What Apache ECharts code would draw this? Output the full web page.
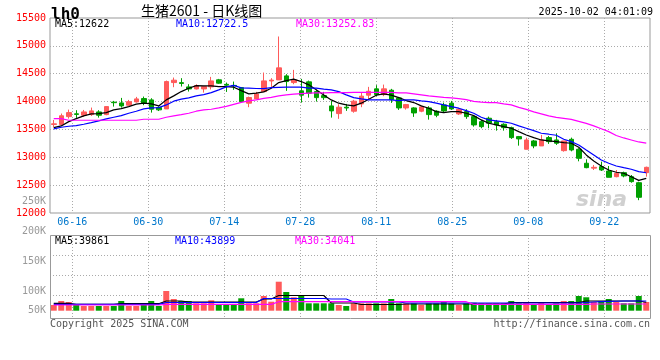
<!DOCTYPE html>
<html><head><meta charset="utf-8">
<script src="https://cdn.jsdelivr.net/npm/echarts@6/dist/echarts.min.js"></script>
<style>html,body{margin:0;padding:0;background:#fff}#c{width:660px;height:360px}</style>
</head><body><div id="c"></div>
<script>
const dates = ['06-11','06-12','06-13','06-16','06-17','06-18','06-19','06-20','06-23','06-24','06-25','06-26','06-27','06-30',
'07-01','07-02','07-03','07-04','07-07','07-08','07-09','07-10','07-11','07-14','07-15','07-16','07-17','07-18','07-21','07-22','07-23','07-24','07-25','07-28','07-29','07-30','07-31',
'08-01','08-04','08-05','08-06','08-07','08-08','08-11','08-12','08-13','08-14','08-15','08-18','08-19','08-20','08-21','08-22','08-25','08-26','08-27','08-28','08-29',
'09-01','09-02','09-03','09-04','09-05','09-08','09-09','09-10','09-11','09-12','09-15','09-16','09-17','09-18','09-19','09-22','09-23','09-24','09-25','09-26','09-29','09-30'];
const opens = [13590,13590,13730,13780,13755,13766,13814,13766,13990,13976,
13935,13994,14054,14030,13893,13868,14341,14340,14263,14227,
14227,14264,14390,14310,14290,14251,13971,14048,14179,14370,
14389,14461,14341,14192,14354,14179,14107,13922,13784,13900,
13827,13958,14115,14228,14125,14204,14066,13886,13886,13827,
13886,13827,13940,13971,13778,13820,13730,13640,13701,13640,
13593,13532,13371,13144,13293,13204,13353,13311,13119,13323,
13144,12893,12805,12832,12754,12652,12724,12652,12544,12724];
const closes = [13600,13745,13802,13770,13814,13833,13755,13910,13980,13922,
13999,14048,13971,13863,13851,14359,14384,14325,14227,14287,
14269,14371,14330,14295,14280,14000,14072,14138,14371,14385,
14605,14359,14389,14115,14150,14071,14071,13833,13899,13885,
14007,14097,14185,14125,14228,14035,13886,13946,13796,13904,
13766,13755,13832,13868,13862,13730,13581,13550,13612,13581,
13532,13353,13330,13311,13204,13311,13281,13252,13293,13131,
12982,12814,12820,12772,12641,12712,12665,12563,12282,12820];
const lows = [13540,13560,13694,13707,13725,13742,13712,13755,13910,13892,
13920,13982,13935,13802,13830,13868,14258,14270,14180,14218,
14161,14218,14318,14173,14210,13982,13899,14048,14179,14258,
14389,14192,14312,13982,14071,14000,14030,13712,13690,13833,
13800,13899,14036,14097,14097,13976,13850,13856,13725,13809,
13676,13719,13802,13850,13760,13690,13550,13521,13521,13478,
13478,13330,13209,13144,13162,13204,13240,13222,13101,13107,
12928,12803,12772,12754,12641,12641,12641,12544,12230,12652];
const highs = [13670,13785,13856,13845,13850,13892,13845,13915,14012,14066,
14030,14084,14090,14060,13915,14377,14431,14420,14312,14310,
14275,14443,14407,14341,14359,14258,14090,14174,14521,14420,
15168,14492,14569,14407,14377,14210,14174,14012,13953,13958,
14030,14156,14264,14294,14305,14228,14084,13958,13899,13927,
13917,13845,13982,14012,13880,13863,13760,13671,13730,13671,
13610,13550,13383,13353,13311,13401,13383,13431,13293,13353,
13162,12964,12862,12922,12844,12772,12742,12682,12562,12832];
const ma5 = [13532,13563,13640,13694,13743,13778,13784,13802,13850,13874,
13910,13953,13971,13958,13922,14030,14102,14179,14240,14287,
14282,14282,14269,14269,14258,14197,14138,14150,14174,14240,
14341,14377,14402,14359,14300,14210,14120,14030,13971,13940,
13922,13971,14043,14115,14138,14115,14072,14018,13982,13922,
13881,13820,13802,13820,13820,13791,13748,13671,13611,13581,
13550,13521,13460,13401,13353,13311,13293,13281,13263,13252,
13180,13042,12934,12844,12772,12731,12713,12652,12585,12622];
const ma10 = [13509,13539,13557,13568,13593,13622,13653,13689,13719,13748,
13791,13827,13868,13886,13892,13940,14007,14043,14066,14102,
14125,14161,14210,14264,14290,14245,14240,14235,14233,14251,
14255,14258,14258,14258,14240,14240,14222,14210,14179,14120,
14072,14048,14030,14030,14030,14030,14018,14030,14030,14012,
14000,13971,13940,13910,13881,13838,13791,13719,13671,13653,
13635,13611,13563,13521,13478,13431,13414,13396,13324,13281,
13221,13131,13042,12952,12892,12844,12814,12785,12742,12722];
const ma30 = [13694,13694,13665,13665,13665,13665,13665,13665,13665,13665,
13665,13665,13683,13683,13683,13719,13743,13766,13791,13827,
13850,13862,13886,13913,13949,13985,14012,14030,14057,14075,
14102,14120,14133,14143,14150,14156,14156,14161,14161,14161,
14165,14165,14165,14165,14165,14165,14156,14156,14138,14120,
14102,14089,14075,14066,14053,14035,14003,13989,13982,13980,
13958,13940,13895,13859,13814,13778,13742,13716,13698,13680,
13644,13608,13563,13513,13460,13392,13347,13311,13275,13253];
const volumes = [30800,43900,40600,30800,27500,27500,27500,27500,27500,43900,
27500,27500,33000,43900,27500,76800,50500,43900,43900,36300,
36300,46200,30800,30800,30800,52800,36300,36300,60300,41600,
107300,73500,56100,60300,36300,36300,36300,36300,30800,27500,
36300,36300,36300,36300,36300,50500,36300,36300,36300,30800,
36300,36300,43900,36300,30800,36300,38300,36300,36300,36300,
36300,43900,36300,40600,30800,40600,30800,36300,43900,43900,
60300,56100,40600,43900,50500,40600,36300,36300,60300,40600];
const volMa5 = [36300,36300,36300,33000,33000,33000,33000,33000,33000,35000,
35000,35000,35000,35000,35000,43900,43900,43900,40600,40600,
40600,40600,40600,40600,40600,40600,40600,40600,50500,50500,
62000,62000,62000,62000,62000,62000,62000,37300,37300,37300,
37300,32400,32400,32400,32400,32400,32400,34000,34000,34000,
34000,34000,34000,34000,34000,34000,34000,34000,34000,34000,
34000,39000,39000,39000,39000,39000,39000,39000,39000,39000,
39000,43900,43900,43900,43900,43900,43900,43900,43900,39861];
const volMa10 = [33000,33000,33000,33000,33000,33000,33000,33000,33000,33000,
33000,33000,33000,33000,33000,39000,39000,39000,39000,39000,
39000,39000,39000,39000,39000,39000,39000,39000,52100,52100,
52100,52100,52100,52100,52100,52100,52100,50500,50500,50500,
40600,40600,40600,40600,40600,40600,40600,37300,37300,37300,
37300,37300,37300,37300,37300,37300,37300,37300,37300,37300,
37300,37300,37300,37300,37300,37300,37300,37300,37300,37300,
37300,39000,40600,41600,42500,43000,43900,43900,43900,43899];
const volMa30 = [30800,30800,30800,30800,30800,30800,30800,30800,30800,30800,
30800,30800,30800,30800,30800,33000,33000,33000,33000,33000,
33000,33000,33000,33000,33000,33000,33000,33000,33000,33000,
41600,41600,41600,41600,41600,41600,41600,41600,41600,41600,
41600,41600,41600,41600,41600,41600,41600,41600,41600,41600,
41600,41600,41600,41600,41600,41600,33000,33000,33000,33000,
33000,33000,33000,33000,33000,33000,33000,33000,33000,33000,
33000,33000,34041,34041,34041,34041,34041,34041,34041,34041];
const tickLabels = ['06-16','06-30','07-14','07-28','08-11','08-25','09-08','09-22'];
const priceMaLabels = ['MA5:12622','MA10:12722.5','MA30:13252.83'];
const volMaLabels = ['MA5:39861','MA10:43899','MA30:34041'];
const volAxisLabels = ['250K','200K','150K','100K','50K'];

const RED = '#FF5A5A', GREEN = '#00A000';
const MONO = '"DejaVu Sans Mono", monospace';
const candleData = dates.map((d, i) => [opens[i], closes[i], lows[i], highs[i]]);
const volData = volumes.map((v, i) => ({value: v, itemStyle: {color: closes[i] >= opens[i] ? RED : GREEN}}));
const dotted = {show: true, lineStyle: {color: '#aaaaaa', type: [1, 2], width: 1}};

const chart = echarts.init(document.getElementById('c'), null, {renderer: 'canvas'});
const L = 50, W = 600;
function txt(text, x, y, fill, font, align) {
  return {type: 'text', x: x, y: y, silent: true, z: 100,
    style: {text: text, fill: fill, font: font, textAlign: align || 'left', align: align || 'left', textVerticalAlign: 'middle', verticalAlign: 'middle'}};
}
const volLabelY = [201, 231, 261, 291, 310];
const option = {
  animation: false,
  backgroundColor: '#ffffff',
  grid: [
    {left: L, width: W, top: 18, height: 195, show: true, borderColor: '#999', borderWidth: 1, backgroundColor: 'transparent'},
    {left: L, width: W, top: 235, height: 75.7},
    {left: 72.3, width: 532, top: 18, height: 195},
    {left: 72.3, width: 532, top: 235, height: 83},
    {left: L, width: W, top: 255, height: 40}
  ],
  xAxis: [
    {type: 'category', gridIndex: 0, data: dates, boundaryGap: true, axisLine: {show: false}, axisTick: {show: false}, axisLabel: {show: false}, splitLine: {show: false}},
    {type: 'category', gridIndex: 1, data: dates, boundaryGap: true, axisLine: {show: false}, axisTick: {show: false}, axisLabel: {show: false}, splitLine: {show: false}},
    {type: 'value', gridIndex: 2, min: 0, max: 532, interval: 76, axisLine: {show: false}, axisTick: {show: false},
      axisLabel: {show: true, margin: 4, color: '#0077CC', fontFamily: MONO, fontSize: 10, showMinLabel: true, showMaxLabel: true,
        formatter: v => { const k = Math.round(v / 76); return tickLabels[k] || ''; }},
      splitLine: dotted},
    {type: 'value', gridIndex: 3, min: 0, max: 532, interval: 76, axisLine: {show: false}, axisTick: {show: false}, axisLabel: {show: false}, splitLine: dotted},
    {type: 'value', gridIndex: 4, min: 0, max: 1, show: false}
  ],
  yAxis: [
    {type: 'value', gridIndex: 0, min: 12000, max: 15500, interval: 500, axisLine: {show: false}, axisTick: {show: false},
      axisLabel: {color: '#FF0000', fontFamily: MONO, fontSize: 10, margin: 4, showMinLabel: true, showMaxLabel: true, formatter: v => String(v)},
      splitLine: Object.assign({showMinLine: false, showMaxLine: false}, dotted)},
    {type: 'value', gridIndex: 1, min: 12025, max: 260800, show: false, splitLine: {show: false}},
    {type: 'value', gridIndex: 2, min: 0, max: 1, show: false},
    {type: 'value', gridIndex: 3, min: 0, max: 1, show: false},
    {type: 'value', gridIndex: 4, min: 0, max: 40, interval: 20, axisLine: {show: false}, axisTick: {show: false}, axisLabel: {show: false}, splitLine: dotted}
  ],
  series: [
    {type: 'candlestick', xAxisIndex: 0, yAxisIndex: 0, data: candleData, barWidth: 5,
      itemStyle: {color: RED, color0: GREEN, borderColor: RED, borderColor0: GREEN, borderWidth: 1}, z: 3},
    {type: 'line', xAxisIndex: 0, yAxisIndex: 0, data: ma5, symbol: 'none', lineStyle: {color: '#000000', width: 1.2}, z: 4},
    {type: 'line', xAxisIndex: 0, yAxisIndex: 0, data: ma10, symbol: 'none', lineStyle: {color: '#0000FF', width: 1.2}, z: 4},
    {type: 'line', xAxisIndex: 0, yAxisIndex: 0, data: ma30, symbol: 'none', lineStyle: {color: '#FF00FF', width: 1.2}, z: 4},
    {type: 'bar', xAxisIndex: 1, yAxisIndex: 1, data: volData, barWidth: 6, z: 3},
    {type: 'line', xAxisIndex: 1, yAxisIndex: 1, data: volMa5, symbol: 'none', lineStyle: {color: '#000000', width: 1.2}, z: 4},
    {type: 'line', xAxisIndex: 1, yAxisIndex: 1, data: volMa10, symbol: 'none', lineStyle: {color: '#0000FF', width: 1.2}, z: 4},
    {type: 'line', xAxisIndex: 1, yAxisIndex: 1, data: volMa30, symbol: 'none', lineStyle: {color: '#FF00FF', width: 1.2}, z: 4}
  ],
  graphic: [
    {type: 'rect', silent: true, z: 50, shape: {x: 50.5, y: 235.5, width: 600, height: 83}, style: {fill: 'none', stroke: '#999', lineWidth: 1}},
    txt('sina', 576, 200, 'rgba(200,200,200,0.85)', 'italic bold 22px "DejaVu Sans", sans-serif'),
    txt('lh0', 51, 15, '#000', 'bold 16px ' + MONO),
    txt('生猪2601 - 日K线图', 141, 11, '#000', '14px "Noto Sans CJK SC", sans-serif'),
    txt('2025-10-02 04:01:09', 653, 12, '#000', '10px ' + MONO, 'right'),
    txt(priceMaLabels[0], 55, 24, '#000', '10px ' + MONO),
    txt(priceMaLabels[1], 176, 24, '#0000FF', '10px ' + MONO),
    txt(priceMaLabels[2], 296, 24, '#FF00FF', '10px ' + MONO),
    txt(volMaLabels[0], 55, 241, '#000', '10px ' + MONO),
    txt(volMaLabels[1], 175, 241, '#0000FF', '10px ' + MONO),
    txt(volMaLabels[2], 295, 241, '#FF00FF', '10px ' + MONO),
    txt('Copyright 2025 SINA.COM', 50, 324, '#555', '10px ' + MONO),
    txt('http://finance.sina.com.cn', 650, 324, '#555', '10px ' + MONO, 'right')
  ].concat(volAxisLabels.map((t, i) => txt(t, 46, volLabelY[i], '#999', '10px ' + MONO, 'right')))
};
chart.setOption(option);
</script></body></html>
